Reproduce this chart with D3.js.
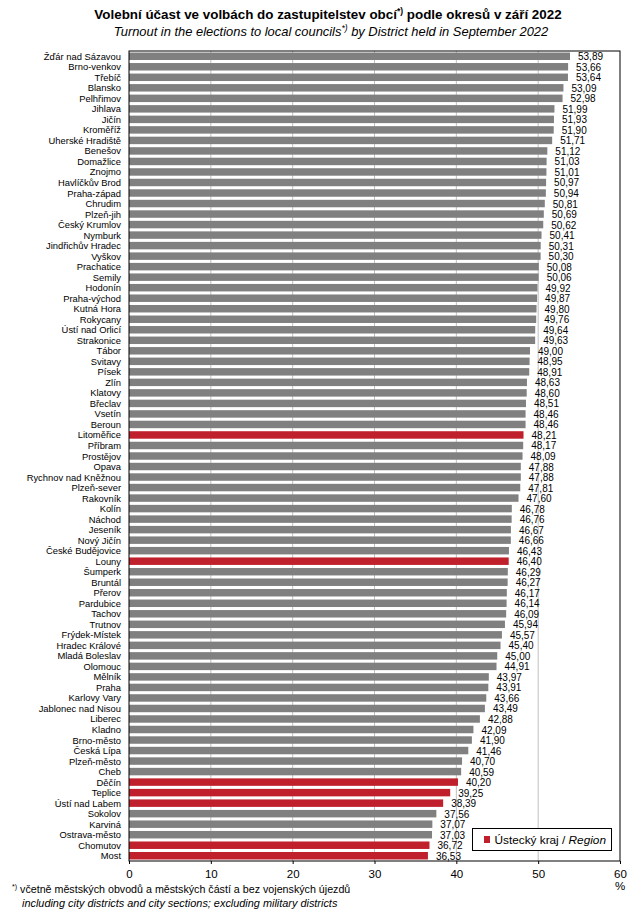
<!DOCTYPE html>
<html><head><meta charset="utf-8">
<script src="https://cdn.jsdelivr.net/npm/d3@7"></script>
<style>body{margin:0;background:#fff}svg{display:block}text{font-family:"Liberation Sans",Arial,sans-serif}</style>
</head><body><svg id="c" width="642" height="916"></svg>
<script>
const districts = ["Žďár nad Sázavou","Brno-venkov","Třebíč","Blansko","Pelhřimov","Jihlava","Jičín","Kroměříž","Uherské Hradiště","Benešov","Domažlice","Znojmo","Havlíčkův Brod","Praha-západ","Chrudim","Plzeň-jih","Český Krumlov","Nymburk","Jindřichův Hradec","Vyškov","Prachatice","Semily","Hodonín","Praha-východ","Kutná Hora","Rokycany","Ústí nad Orlicí","Strakonice","Tábor","Svitavy","Písek","Zlín","Klatovy","Břeclav","Vsetín","Beroun","Litoměřice","Příbram","Prostějov","Opava","Rychnov nad Kněžnou","Plzeň-sever","Rakovník","Kolín","Náchod","Jeseník","Nový Jičín","České Budějovice","Louny","Šumperk","Bruntál","Přerov","Pardubice","Tachov","Trutnov","Frýdek-Místek","Hradec Králové","Mladá Boleslav","Olomouc","Mělník","Praha","Karlovy Vary","Jablonec nad Nisou","Liberec","Kladno","Brno-město","Česká Lípa","Plzeň-město","Cheb","Děčín","Teplice","Ústí nad Labem","Sokolov","Karviná","Ostrava-město","Chomutov","Most"];
const turnout = [53.89,53.66,53.64,53.09,52.98,51.99,51.93,51.90,51.71,51.12,51.03,51.01,50.97,50.94,50.81,50.69,50.62,50.41,50.31,50.30,50.08,50.06,49.92,49.87,49.80,49.76,49.64,49.63,49.00,48.95,48.91,48.63,48.60,48.51,48.46,48.46,48.21,48.17,48.09,47.88,47.88,47.81,47.60,46.78,46.76,46.67,46.66,46.43,46.40,46.29,46.27,46.17,46.14,46.09,45.94,45.57,45.40,45.00,44.91,43.97,43.91,43.66,43.49,42.88,42.09,41.90,41.46,40.70,40.59,40.20,39.25,38.39,37.56,37.07,37.03,36.72,36.53];
const usteckyRegion = ["Litoměřice","Louny","Děčín","Teplice","Ústí nad Labem","Chomutov","Most"];
const xTicks = [0,10,20,30,40,50,60];

const data = districts.map((d,i)=>({name:d, value:turnout[i], red:usteckyRegion.includes(d)}));
const svg = d3.select("#c");
const L=129, R=620, T=51, B=861;
const x = d3.scaleLinear().domain([0,60]).range([L,R]);
const y = d3.scaleBand().domain(districts).range([T,B]).paddingInner(0.29).paddingOuter(0.145);
const GRAY="#808080", RED="#C0202B";

// title
const t1 = svg.append("text").attr("x",328).attr("y",19).attr("text-anchor","middle")
  .attr("font-size",13.4).attr("font-weight","bold");
t1.append("tspan").text("Volební účast ve volbách do zastupitelstev  obcí");
t1.append("tspan").text("*)").attr("font-size",8.5).attr("dy",-5);
t1.append("tspan").text(" podle okresů  v září 2022").attr("dy",5);
const t2 = svg.append("text").attr("x",331).attr("y",36).attr("text-anchor","middle")
  .attr("font-size",12.9).attr("font-style","italic");
t2.append("tspan").text("Turnout  in the elections to local councils");
t2.append("tspan").text("*)").attr("font-size",8.5).attr("dy",-5);
t2.append("tspan").text(" by District held in September 2022").attr("dy",5);

// gridlines
svg.append("g").selectAll("line").data(xTicks.filter(v=>v>0&&v<60)).join("line")
  .attr("x1",d=>x(d)).attr("x2",d=>x(d)).attr("y1",T).attr("y2",B)
  .attr("stroke","#c0c0c0").attr("stroke-width",1);

// bars
svg.append("g").selectAll("rect").data(data).join("rect")
  .attr("x",x(0)).attr("y",d=>y(d.name)).attr("width",d=>x(d.value)-x(0))
  .attr("height",y.bandwidth()).attr("fill",d=>d.red?RED:GRAY);

// value labels
svg.append("g").selectAll("text").data(data).join("text")
  .attr("x",d=>x(d.value)+8).attr("y",d=>y(d.name)+y.bandwidth()/2+4)
  .attr("font-size",10).attr("fill","#000")
  .text(d=>d3.format(".2f")(d.value).replace(".",","));

// category labels
svg.append("g").selectAll("text").data(data).join("text")
  .attr("x",121).attr("y",d=>y(d.name)+y.bandwidth()/2+3.5)
  .attr("text-anchor","end").attr("font-size",9.4).attr("fill","#000")
  .text(d=>d.name);

// frame
svg.append("rect").attr("x",L).attr("y",T).attr("width",R-L).attr("height",B-T)
  .attr("fill","none").attr("stroke","#000").attr("stroke-width",1);

// x axis
const xa = svg.append("g").attr("transform",`translate(0,${B})`)
  .call(d3.axisBottom(x).tickValues(xTicks).tickSize(3).tickPadding(6).tickFormat(d3.format("d")));
xa.select(".domain").remove();
xa.selectAll("text").attr("font-size",11.5).attr("font-family","Liberation Sans, Arial, sans-serif").attr("fill","#000");
xa.selectAll("line").attr("stroke","#000");
svg.append("text").attr("x",620).attr("y",890).attr("text-anchor","middle").attr("font-size",11.5).text("%");

// legend
svg.append("rect").attr("x",472.5).attr("y",828.5).attr("width",139).attr("height",22)
  .attr("fill","#fff").attr("stroke","#000").attr("stroke-width",1);
svg.append("rect").attr("x",484).attr("y",836).attr("width",6).attr("height",7).attr("fill",RED);
const lt = svg.append("text").attr("x",494.5).attr("y",843.5).attr("font-size",11.8);
lt.append("tspan").text("Ústecký kraj / ");
lt.append("tspan").text("Region").attr("font-style","italic");

// footnote
const f1 = svg.append("text").attr("x",12).attr("y",893).attr("font-size",10.7);
f1.append("tspan").text("*)").attr("font-size",7).attr("dy",-4);
f1.append("tspan").text(" včetně městských obvodů a městských částí a bez vojenských újezdů").attr("dy",4);
svg.append("text").attr("x",22).attr("y",907).attr("font-size",10.9).attr("font-style","italic")
  .text("including city districts and city sections; excluding military districts");
</script></body></html>
